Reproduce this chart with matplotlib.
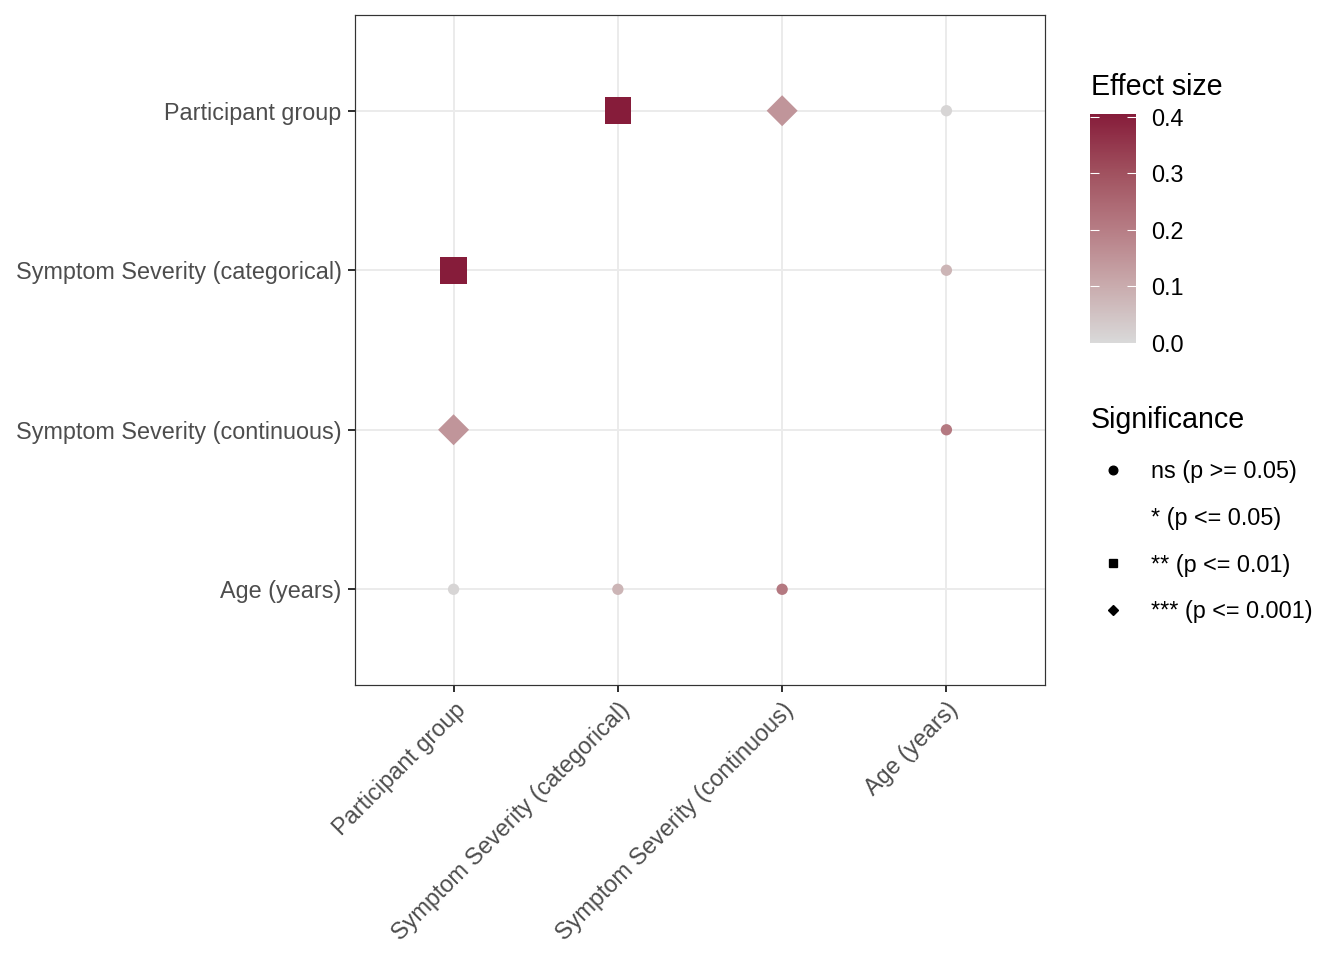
import numpy as np
import matplotlib
matplotlib.use("Agg")
import matplotlib.pyplot as plt
from matplotlib.colors import LinearSegmentedColormap, Normalize
from matplotlib.lines import Line2D

plt.rcParams['font.family'] = ['Liberation Sans', 'DejaVu Sans']

# variables (same order on both axes, top to bottom / left to right)
variables = ["Participant group", "Symptom Severity (categorical)",
             "Symptom Severity (continuous)", "Age (years)"]

# pairwise effects (x variable, y variable, effect size, significance)
x_var = ["Symptom Severity (categorical)", "Symptom Severity (continuous)", "Age (years)",
         "Participant group", "Age (years)",
         "Participant group", "Age (years)",
         "Participant group", "Symptom Severity (categorical)", "Symptom Severity (continuous)"]
y_var = ["Participant group", "Participant group", "Participant group",
         "Symptom Severity (categorical)", "Symptom Severity (categorical)",
         "Symptom Severity (continuous)", "Symptom Severity (continuous)",
         "Age (years)", "Age (years)", "Age (years)"]
effect = [0.405, 0.15, 0.01,
          0.405, 0.08,
          0.15, 0.21,
          0.01, 0.08, 0.21]
signif = ["**", "***", "ns",
          "**", "ns",
          "***", "ns",
          "ns", "ns", "ns"]

sig_levels = ["ns", "*", "**", "***"]
sig_labels = ["ns (p >= 0.05)", "* (p <= 0.05)", "** (p <= 0.01)", "*** (p <= 0.001)"]
sig_marker = {"ns": "o", "*": None, "**": "s", "***": "D"}
sig_size = {"ns": 72, "**": 400, "***": 270}

cmap = LinearSegmentedColormap.from_list(
    "eff", ["#D9D9D9", "#C9ABAD", "#B67C84", "#A0505E", "#861C3A"])
vmin, vmax = 0.0, 0.405
norm = Normalize(vmin, vmax)

fig = plt.figure(figsize=(14, 10), dpi=96)
ax = fig.add_axes([355 / 1344, 1 - 685 / 960, 690 / 1344, 670 / 960])

pos = {v: i + 1 for i, v in enumerate(variables)}
for lvl in sig_levels:
    idx = [i for i, s in enumerate(signif) if s == lvl]
    if not idx or sig_marker[lvl] is None:
        continue
    xs = [pos[x_var[i]] for i in idx]
    ys = [pos[y_var[i]] for i in idx]
    cs = [effect[i] for i in idx]
    ax.scatter(xs, ys, c=cs, cmap=cmap, norm=norm, marker=sig_marker[lvl],
               s=sig_size[lvl], linewidths=0, zorder=3)

ax.set_xlim(0.4, 4.6)
ax.set_ylim(4.6, 0.4)
ax.set_xticks(range(1, 5))
ax.set_yticks(range(1, 5))
ax.set_xticklabels(variables, rotation=45, ha="right", va="top",
                   rotation_mode="anchor")
ax.set_yticklabels(variables)
ax.tick_params(colors="#333333", labelcolor="#4D4D4D", labelsize=17.5, length=5.5,
               width=1.5, pad=4.5)
ax.grid(True, color="#EBEBEB", lw=1.5, zorder=0)
ax.set_axisbelow(True)
for sp in ax.spines.values():
    sp.set_color("#333333")
    sp.set_linewidth(0.9)

# colorbar
cax = fig.add_axes([1090 / 1344, 1 - 343 / 960, 46 / 1344, 229 / 960])
sm = plt.cm.ScalarMappable(norm=norm, cmap=cmap)
cb = fig.colorbar(sm, cax=cax, ticks=[0, 0.1, 0.2, 0.3, 0.4])
cb.outline.set_visible(False)
cb.ax.set_yticklabels(["0.0", "0.1", "0.2", "0.3", "0.4"])
cax.tick_params(left=True, right=True, direction="in", color="white",
                length=7, width=0.8, labelsize=17.5, pad=11, labelcolor="black")
fig.text(1091 / 1344, 1 - 87 / 960, "Effect size", fontsize=21.5, va="center", ha="left")

# significance legend
fig.text(1091 / 1344, 1 - 420 / 960, "Significance", fontsize=21.5, va="center", ha="left")
handles = []
for lvl in sig_levels:
    m = sig_marker[lvl]
    handles.append(Line2D([], [], linestyle="none", marker=m if m else "",
                          color="black", markersize=6.5 if m != "D" else 5.5))
leg = fig.legend(handles, sig_labels, loc="upper left",
                 bbox_to_anchor=(1090 / 1344, 1 - 460 / 960), frameon=False,
                 fontsize=17.5, labelspacing=1.02, handletextpad=0.64,
                 handlelength=1.97, borderpad=0, borderaxespad=0)

fig.savefig("out.png", dpi=96)
